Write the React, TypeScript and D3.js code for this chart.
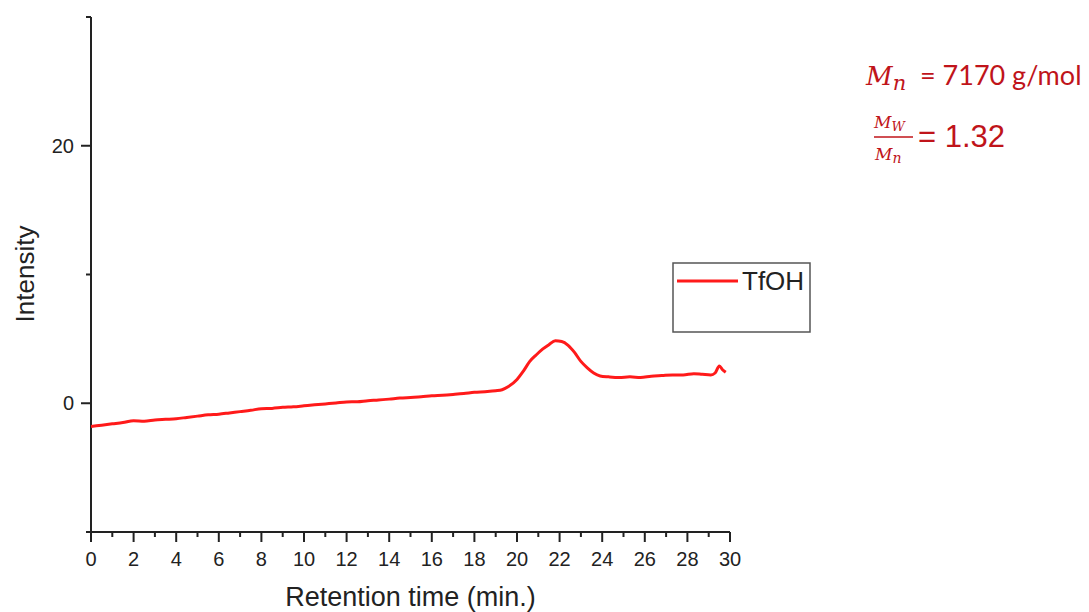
import React from "react";
import * as d3 from "d3";

const retentionTime: number[] = [0,0.5,1,1.5,2,2.5,3,3.5,4,4.5,5,5.5,6,6.5,7,7.5,8,8.5,9,9.5,10,10.5,11,11.5,12,12.5,13,13.5,14,14.5,15,15.5,16,16.5,17,17.5,18,18.5,19,19.3,19.6,20,20.3,20.6,20.9,21.2,21.5,21.8,22.1,22.4,22.7,23,23.3,23.6,23.9,24.3,24.8,25.3,25.8,26.3,26.8,27.3,27.8,28.3,28.7,29.1,29.3,29.5,29.65,29.8];
const intensity: number[] = [-1.8,-1.7,-1.6,-1.5,-1.35,-1.4,-1.3,-1.25,-1.2,-1.1,-1.0,-0.9,-0.85,-0.75,-0.65,-0.55,-0.42,-0.4,-0.32,-0.28,-0.2,-0.12,-0.05,0.02,0.1,0.12,0.2,0.25,0.32,0.4,0.45,0.5,0.58,0.62,0.68,0.75,0.85,0.9,0.97,1.05,1.3,1.85,2.5,3.25,3.75,4.2,4.55,4.85,4.8,4.5,3.95,3.25,2.75,2.35,2.12,2.05,2.0,2.05,2.0,2.1,2.15,2.2,2.2,2.3,2.25,2.2,2.35,2.9,2.6,2.4];
const xTicks: number[] = [0,2,4,6,8,10,12,14,16,18,20,22,24,26,28,30];
const xMinorTicks: number[] = [1,3,5,7,9,11,13,15,17,19,21,23,25,27,29];
const yTicks: number[] = [0, 20];
const yMinorTicks: number[] = [-10, 10, 30];
const seriesName = "TfOH";

const W = 1089, H = 612;
const left = 91, right = 730, top = 17, bottom = 532;
const axisFont = "'Liberation Sans', Arial, sans-serif";
const mathFont = "'DejaVu Serif', 'Liberation Serif', serif";
const annColor = "#c0141a";

export default function App() {
  const x = d3.scaleLinear().domain([0, 30]).range([left, right]);
  const y = d3.scaleLinear().domain([-10, 30]).range([bottom, top]);
  const pts: [number, number][] = retentionTime.map((t, i) => [t, intensity[i]]);
  const line = d3.line<[number, number]>().x(d => x(d[0])).y(d => y(d[1])).curve(d3.curveMonotoneX);
  const axisColor = "#222";
  return (
    <svg width={W} height={H} style={{ position: "absolute", left: 0, top: 0, background: "#fff" }}>
      {/* axes */}
      <line x1={left} y1={top} x2={left} y2={bottom} stroke={axisColor} strokeWidth={2} />
      <line x1={left} y1={bottom} x2={right} y2={bottom} stroke={axisColor} strokeWidth={2} />
      {xTicks.map(t => (
        <g key={"xt" + t}>
          <line x1={x(t)} x2={x(t)} y1={bottom} y2={bottom + 10} stroke={axisColor} strokeWidth={2} />
          <text x={x(t)} y={bottom + 34} textAnchor="middle" fontFamily={axisFont} fontSize={20} fill="#222">{t}</text>
        </g>
      ))}
      {xMinorTicks.map(t => (
        <line key={"xm" + t} x1={x(t)} x2={x(t)} y1={bottom} y2={bottom + 5} stroke={axisColor} strokeWidth={2} />
      ))}
      {yTicks.map(t => (
        <g key={"yt" + t}>
          <line x1={left - 10} x2={left} y1={y(t)} y2={y(t)} stroke={axisColor} strokeWidth={2} />
          <text x={left - 17} y={y(t) + 7} textAnchor="end" fontFamily={axisFont} fontSize={20} fill="#222">{t}</text>
        </g>
      ))}
      {yMinorTicks.map(t => (
        <line key={"ym" + t} x1={left - 5} x2={left} y1={y(t)} y2={y(t)} stroke={axisColor} strokeWidth={2} />
      ))}
      <text x={(left + right) / 2} y={606} textAnchor="middle" fontFamily={axisFont} fontSize={27} fill="#222">Retention time (min.)</text>
      <text transform={`translate(34, 274) rotate(-90)`} textAnchor="middle" fontFamily={axisFont} fontSize={26} fill="#222">Intensity</text>
      {/* series */}
      <path d={line(pts) || ""} fill="none" stroke="#ff1a1a" strokeWidth={3} strokeLinejoin="round" />
      {/* legend */}
      <rect x={673} y={263} width={137} height={69} fill="#fff" stroke="#555" strokeWidth={1.5} />
      <line x1={677} x2={738} y1={281} y2={281} stroke="#ff1a1a" strokeWidth={3} />
      <text x={742} y={290} fontFamily={axisFont} fontSize={26} fill="#222">{seriesName}</text>
      {/* annotation */}
      <g fill={annColor}>
        <text x={866} y={85}>
          <tspan fontFamily={mathFont} fontStyle="italic" fontSize={26}>M</tspan>
          <tspan fontFamily={mathFont} fontStyle="italic" fontSize={21} dy={5}>n</tspan>
        </text>
        <text x={920} y={85} fontFamily="Lato, 'Open Sans', sans-serif" fontSize={27}>= 7170 g/mol</text>
        <text x={874} y={128} fontFamily={mathFont} fontStyle="italic" fontSize={17}>M<tspan fontSize={13} dy={3}>W</tspan></text>
        <line x1={874} x2={913} y1={137} y2={137} stroke={annColor} strokeWidth={1.4} />
        <text x={875} y={160} fontFamily={mathFont} fontStyle="italic" fontSize={17}>M<tspan fontSize={14} dy={3}>n</tspan></text>
        <text x={918} y={147} fontFamily={axisFont} fontSize={31}>= 1.32</text>
      </g>
    </svg>
  );
}
